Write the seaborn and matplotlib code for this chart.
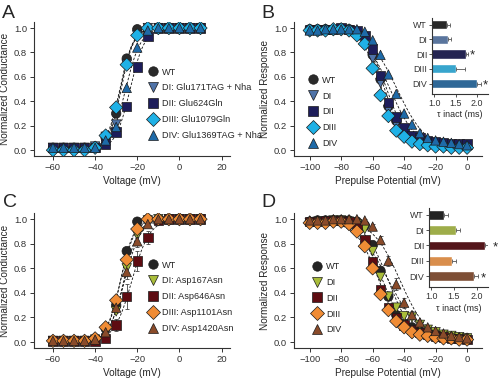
import numpy as np
import pandas as pd
import seaborn as sns
import matplotlib.pyplot as plt
from matplotlib.lines import Line2D

# ---- data ----
groups = ['WT', 'DI', 'DII', 'DIII', 'DIV']
marker_shapes = ['o', 'v', 's', 'D', '^']
blue_colors = ['#2a2a2a', '#4f73a8', '#1d1d5a', '#1fb1e6', '#1e6aa8']
brown_colors = ['#242424', '#a9bd3a', '#5e0c12', '#f08c35', '#8a4b2a']

labels_a = ['WT', 'DI: Glu171TAG + Nha', 'DII: Glu624Gln', 'DIII: Glu1079Gln', 'DIV: Glu1369TAG + Nha']
labels_c = ['WT', 'DI: Asp167Asn', 'DII: Asp646Asn', 'DIII: Asp1101Asn', 'DIV: Asp1420Asn']

# conductance-voltage (panels A and C)
volt_act = [-60, -55, -50, -45, -40, -35, -30, -25, -20, -15, -10, -5, 0, 5, 10]
a_wt = [0.02, 0.02, 0.02, 0.02, 0.03, 0.10, 0.30, 0.75, 0.99, 1.00, 1.00, 1.00, 1.00, 1.00, 1.00]
a_di = [0.02, 0.02, 0.02, 0.02, 0.03, 0.11, 0.21, 0.70, 0.94, 1.00, 1.00, 1.00, 1.00, 1.00, 1.00]
a_dii = [0.02, 0.02, 0.02, 0.02, 0.02, 0.05, 0.15, 0.36, 0.68, 0.93, 1.00, 1.00, 1.00, 1.00, 1.00]
a_diii = [0.00, 0.00, 0.00, 0.00, 0.02, 0.12, 0.35, 0.70, 0.94, 1.00, 1.00, 1.00, 1.00, 1.00, 1.00]
a_div = [0.02, 0.02, 0.02, 0.02, 0.02, 0.08, 0.19, 0.51, 0.84, 0.98, 1.00, 1.00, 1.00, 1.00, 1.00]

c_wt = [0.01, 0.01, 0.01, 0.01, 0.03, 0.11, 0.30, 0.74, 0.98, 1.00, 1.00, 1.00, 1.00, 1.00, 1.00]
c_di = [0.01, 0.01, 0.01, 0.01, 0.02, 0.08, 0.25, 0.60, 0.87, 0.99, 1.00, 1.00, 1.00, 1.00, 1.00]
c_dii = [0.01, 0.01, 0.01, 0.01, 0.01, 0.03, 0.14, 0.37, 0.66, 0.85, 0.99, 1.00, 1.00, 1.00, 1.00]
c_diii = [0.01, 0.01, 0.01, 0.01, 0.03, 0.12, 0.34, 0.67, 0.92, 1.00, 1.00, 1.00, 1.00, 1.00, 1.00]
c_div = [0.01, 0.01, 0.01, 0.01, 0.02, 0.08, 0.28, 0.57, 0.82, 0.96, 1.00, 1.00, 1.00, 1.00, 1.00]
c_dii_err = [0, 0, 0, 0, 0, 0.02, 0.05, 0.10, 0.08, 0.05, 0, 0, 0, 0, 0]
c_div_err = [0, 0, 0, 0, 0, 0.02, 0.04, 0.06, 0.05, 0.02, 0, 0, 0, 0, 0]

# steady-state inactivation (panels B and D)
volt_inact = [-100, -95, -90, -85, -80, -75, -70, -65, -60, -55, -50,
              -45, -40, -35, -30, -25, -20, -15, -10, -5, 0]
b_wt = [0.99, 0.99, 0.99, 0.99, 0.99, 0.99, 0.97, 0.93, 0.78, 0.58, 0.36, 0.24, 0.15, 0.10, 0.07, 0.06, 0.05, 0.05, 0.04, 0.04, 0.04]
b_di = [0.97, 0.98, 0.98, 0.98, 0.99, 0.98, 0.96, 0.91, 0.75, 0.55, 0.33, 0.21, 0.14, 0.09, 0.06, 0.05, 0.04, 0.04, 0.03, 0.03, 0.03]
b_dii = [0.99, 0.99, 0.99, 0.99, 1.00, 0.99, 0.98, 0.94, 0.83, 0.61, 0.39, 0.27, 0.18, 0.12, 0.10, 0.08, 0.07, 0.06, 0.05, 0.05, 0.05]
b_diii = [0.98, 0.98, 0.98, 0.99, 0.99, 0.98, 0.94, 0.87, 0.67, 0.45, 0.28, 0.16, 0.11, 0.07, 0.05, 0.04, 0.03, 0.03, 0.02, 0.02, 0.02]
b_div = [0.98, 0.98, 0.99, 0.99, 0.99, 0.99, 0.99, 0.97, 0.90, 0.78, 0.62, 0.46, 0.30, 0.21, 0.14, 0.10, 0.08, 0.07, 0.06, 0.05, 0.04]

d_wt = [0.98, 0.99, 0.99, 0.99, 0.99, 0.99, 0.98, 0.95, 0.79, 0.58, 0.37, 0.22, 0.15, 0.12, 0.09, 0.07, 0.06, 0.05, 0.04, 0.03, 0.03]
d_di = [0.97, 0.98, 0.98, 0.99, 0.99, 0.98, 0.96, 0.92, 0.74, 0.53, 0.37, 0.28, 0.21, 0.20, 0.14, 0.10, 0.08, 0.06, 0.05, 0.04, 0.03]
d_dii = [0.98, 0.98, 0.99, 0.99, 0.99, 0.98, 0.94, 0.83, 0.65, 0.43, 0.28, 0.20, 0.14, 0.10, 0.08, 0.06, 0.05, 0.04, 0.03, 0.03, 0.02]
d_diii = [0.97, 0.97, 0.97, 0.98, 0.98, 0.96, 0.90, 0.78, 0.60, 0.39, 0.26, 0.17, 0.12, 0.08, 0.06, 0.05, 0.04, 0.03, 0.03, 0.02, 0.02]
d_div = [0.99, 0.99, 0.99, 1.00, 1.00, 1.00, 1.00, 0.99, 0.94, 0.83, 0.66, 0.47, 0.32, 0.22, 0.16, 0.12, 0.09, 0.07, 0.05, 0.04, 0.03]
d_div_err = [0, 0, 0, 0, 0, 0, 0, 0.01, 0.02, 0.03, 0.04, 0.05, 0.04, 0.03, 0.02, 0.01, 0, 0, 0, 0, 0]

# inactivation time constants (insets)
tau_b = [1.29, 1.31, 1.73, 1.50, 1.99]
tau_b_err = [0.08, 0.09, 0.05, 0.22, 0.10]
tau_d = [1.27, 1.54, 2.18, 1.46, 1.94]
tau_d_err = [0.09, 0.10, 0.14, 0.08, 0.10]
sig_b = [False, False, True, False, True]
sig_d = [False, False, True, False, True]

# ---- style ----
sns.set_style("ticks")
plt.rcParams['font.family'] = ['Liberation Sans', 'DejaVu Sans']
plt.rcParams['axes.edgecolor'] = '#333333'
plt.rcParams['axes.linewidth'] = 0.8
plt.rcParams['xtick.color'] = '#333333'
plt.rcParams['ytick.color'] = '#333333'

FS = 6.8


def fit_curve(volts, vals, xs):
    # Boltzmann fit via logit-linear regression on the transition points
    v = np.array(volts, float)
    y = np.array(vals, float)
    keep = (y > 0.06) & (y < 0.96)
    m, b = np.polyfit(v[keep], np.log(y[keep] / (1 - y[keep])), 1)
    return 1 / (1 + np.exp(-(m * xs + b)))


def curve_panel(ax, volts, series, labels, colors, xlim, xticks, xlabel, ylabel, errs, leg_xy):
    xs = np.linspace(min(volts), max(volts), 300)
    for vals in series:
        ax.plot(xs, fit_curve(volts, vals, xs), color='#111111', lw=0.6,
                ls=(0, (3, 2)), zorder=1)
    for idx, e in errs.items():
        ax.errorbar(volts, series[idx], yerr=e, fmt='none', ecolor='#444444',
                    elinewidth=0.6, capsize=1.5, capthick=0.6, zorder=2)
    frames = [pd.DataFrame({'V': volts, 'y': vals, 'grp': g})
              for g, vals in zip(groups, series)]
    df = pd.concat(frames, ignore_index=True)
    sns.scatterplot(data=df, x='V', y='y', hue='grp', style='grp',
                    hue_order=groups, style_order=groups,
                    palette=dict(zip(groups, colors)),
                    markers=dict(zip(groups, marker_shapes)),
                    s=46, edgecolor='#1a1a1a', linewidth=0.5,
                    legend=False, ax=ax, zorder=3)
    ax.set_xlim(*xlim)
    ax.set_ylim(-0.049, 1.049)
    ax.set_xticks(xticks)
    ax.set_yticks([0, 0.2, 0.4, 0.6, 0.8, 1.0])
    ax.set_yticklabels(['0.0', '0.2', '0.4', '0.6', '0.8', '1.0'])
    ax.tick_params(labelsize=FS, length=3, width=0.7, pad=2)
    ax.set_xlabel(xlabel, fontsize=7.2, labelpad=3)
    ax.set_ylabel(ylabel, fontsize=7.2, labelpad=3)
    sns.despine(ax=ax)
    handles = [Line2D([], [], ls='none', marker=mk, markersize=6.8,
                      markerfacecolor=c, markeredgecolor='#1a1a1a',
                      markeredgewidth=0.5)
               for mk, c in zip(marker_shapes, colors)]
    ax.legend(handles, labels, loc='center left', bbox_to_anchor=leg_xy,
              frameon=False, fontsize=6.6, handlelength=1.0,
              handletextpad=0.5, labelspacing=0.75, borderpad=0,
              borderaxespad=0)


def tau_inset(ax, tau, err, sig, colors):
    sns.barplot(x=tau, y=groups, hue=groups, palette=colors, legend=False,
                orient='h', width=0.62, ax=ax)
    pos = np.arange(len(groups))
    ax.errorbar(tau, pos, xerr=[np.zeros(len(tau)), err], fmt='none',
                ecolor='#555555', elinewidth=0.6, capsize=1.2, capthick=0.6)
    for p, t, e, s in zip(pos, tau, err, sig):
        if s:
            ax.text(t + e + 0.1, p + 0.12, '*', fontsize=9.5, va='center',
                    ha='center', clip_on=False)
    ax.set_xlim(0.95, 2.25)
    ax.set_ylim(4.7, -0.45)
    ax.set_xticks([1.0, 1.5, 2.0])
    ax.set_xticklabels(['1.0', '1.5', '2.0'])
    ax.tick_params(labelsize=6.4, length=2, width=0.6, pad=1.5)
    ax.set_xlabel('τ inact (ms)', fontsize=6.4, labelpad=2)
    ax.set_ylabel('')
    sns.despine(ax=ax)


fig = plt.figure(figsize=(5, 3.8), dpi=100)

ax_a = fig.add_axes([0.068, 0.589, 0.392, 0.353])
ax_b = fig.add_axes([0.588, 0.589, 0.376, 0.353])
ax_c = fig.add_axes([0.068, 0.084, 0.392, 0.355])
ax_d = fig.add_axes([0.588, 0.084, 0.376, 0.355])

curve_panel(ax_a, volt_act, [a_wt, a_di, a_dii, a_diii, a_div], labels_a, blue_colors,
            (-69, 24), [-60, -40, -20, 0, 20], 'Voltage (mV)', 'Normalized Conductance',
            {}, (0.584, 0.39))
curve_panel(ax_b, volt_inact, [b_wt, b_di, b_dii, b_diii, b_div], groups, blue_colors,
            (-110, 9.5), [-100, -80, -60, -40, -20, 0], 'Prepulse Potential (mV)',
            'Normalized Response', {}, (0.076, 0.33))
curve_panel(ax_c, volt_act, [c_wt, c_di, c_dii, c_diii, c_div], labels_c, brown_colors,
            (-69, 24), [-60, -40, -20, 0, 20], 'Voltage (mV)', 'Normalized Conductance',
            {2: c_dii_err, 4: c_div_err}, (0.584, 0.38))
curve_panel(ax_d, volt_inact, [d_wt, d_di, d_dii, d_diii, d_div], groups, brown_colors,
            (-110, 9.5), [-100, -80, -60, -40, -20, 0], 'Prepulse Potential (mV)',
            'Normalized Response', {4: d_div_err}, (0.098, 0.37))

ins_b = fig.add_axes([0.864, 0.753, 0.112, 0.2])
tau_inset(ins_b, tau_b, tau_b_err, sig_b, blue_colors)
ins_d = fig.add_axes([0.858, 0.245, 0.118, 0.208])
tau_inset(ins_d, tau_d, tau_d_err, sig_d, brown_colors)

for letter, x, y in [('A', 0.004, 0.953), ('B', 0.522, 0.953),
                     ('C', 0.006, 0.455), ('D', 0.522, 0.455)]:
    fig.text(x, y, letter, fontsize=14, va='baseline', ha='left')

fig.savefig('out.png', dpi=100)
